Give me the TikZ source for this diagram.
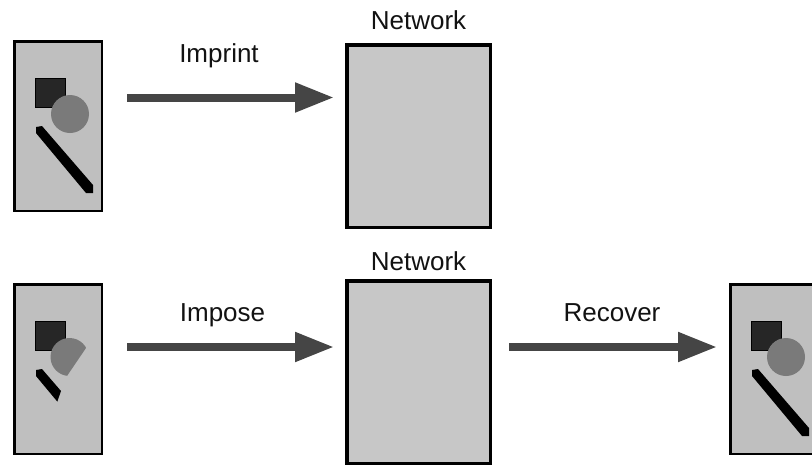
\documentclass[tikz,border=0pt]{standalone}
\usepackage{fontspec}
\setmainfont{Liberation Sans}
\usetikzlibrary{arrows.meta,calc}

\definecolor{panelgray}{gray}{0.75}
\definecolor{netgray}{gray}{0.78}
\definecolor{blockgray}{gray}{0.15}
\definecolor{discgray}{gray}{0.48}
\definecolor{arrowgray}{gray}{0.27}
\definecolor{inkgray}{gray}{0.07}

\begin{document}
\begin{tikzpicture}[x=1pt,y=-1pt,
  panel/.style={draw=black, line width=2.5pt, fill=panelgray,
    minimum width=87.5pt, minimum height=169.5pt, inner sep=0pt},
  netbox/.style={draw=black, line width=3.5pt, fill=netgray,
    minimum width=143.5pt, minimum height=182.5pt, inner sep=0pt},
  caption/.style={font=\fontsize{26}{30}\selectfont, text=inkgray,
    anchor=base, inner sep=0pt},
  flow/.style={draw=arrowgray, line width=8pt,
    -{Triangle[length=39pt,width=28pt]}},
  block/.style={fill=blockgray, draw=black, line width=1pt},
  disc/.style={fill=discgray},
  bar/.style={fill=black},
  % complete picture: square, disc and diagonal bar
  whole/.pic={
    \path[block] (22,38) rectangle (52,67);
    \path[disc] (57,74) circle[radius=19pt];
    \path[bar] (23,87) -- (29,86) -- (80,145) -- (80,153) -- (73,153) -- (23,93) -- cycle;
  },
  % damaged picture: disc cut by a chord, bar shortened
  broken/.pic={
    \path[block] (22,38) rectangle (52,67);
    \begin{scope}
      \clip (16,149) -- (111,9) -- (-10,-10) -- (-10,149) -- cycle;
      \path[disc] (56.5,74) circle[radius=19pt];
    \end{scope}
    \path[bar] (23,87) -- (29,86) -- (48,108) -- (44.3,118.6) -- (23,93) -- cycle;
  }
]
\useasboundingbox (0,0) rectangle (812,466);
\clip (0,0) rectangle (812,466);

% rows of the arrows
\coordinate (rowA) at (0,97.5);
\coordinate (rowB) at (0,347);

% top row
\node[panel] (panelA) at (58,126) {};
\pic at (panelA.north west) {whole};
\node[netbox] (netA) at (418.5,136) {};
\node[caption] (netAlabel) at (418.5,29.3) {Network};
\node[caption] (imprint) at (219,62.5) {Imprint};
\draw[flow] ($(panelA.east |- rowA)+(24,0)$) -- ($(netA.west |- rowA)+(-11,0)$);

% bottom row
\node[panel] (panelB) at (58,369) {};
\pic at (panelB.north west) {broken};
\node[netbox] (netB) at (418.5,372) {};
\node[caption] (netBlabel) at (418.5,270.7) {Network};
\node[caption] (impose) at (222.5,321.7) {Impose};
\draw[flow] ($(panelB.east |- rowB)+(24,0)$) -- ($(netB.west |- rowB)+(-11,0)$);

\node[panel] (panelC) at (774,369) {};
\pic at (panelC.north west) {whole};
\node[caption] (recover) at (612,321) {Recover};
\draw[flow] ($(netB.east |- rowB)+(17,0)$) -- ($(panelC.west |- rowB)+(-12,0)$);
\end{tikzpicture}
\end{document}
